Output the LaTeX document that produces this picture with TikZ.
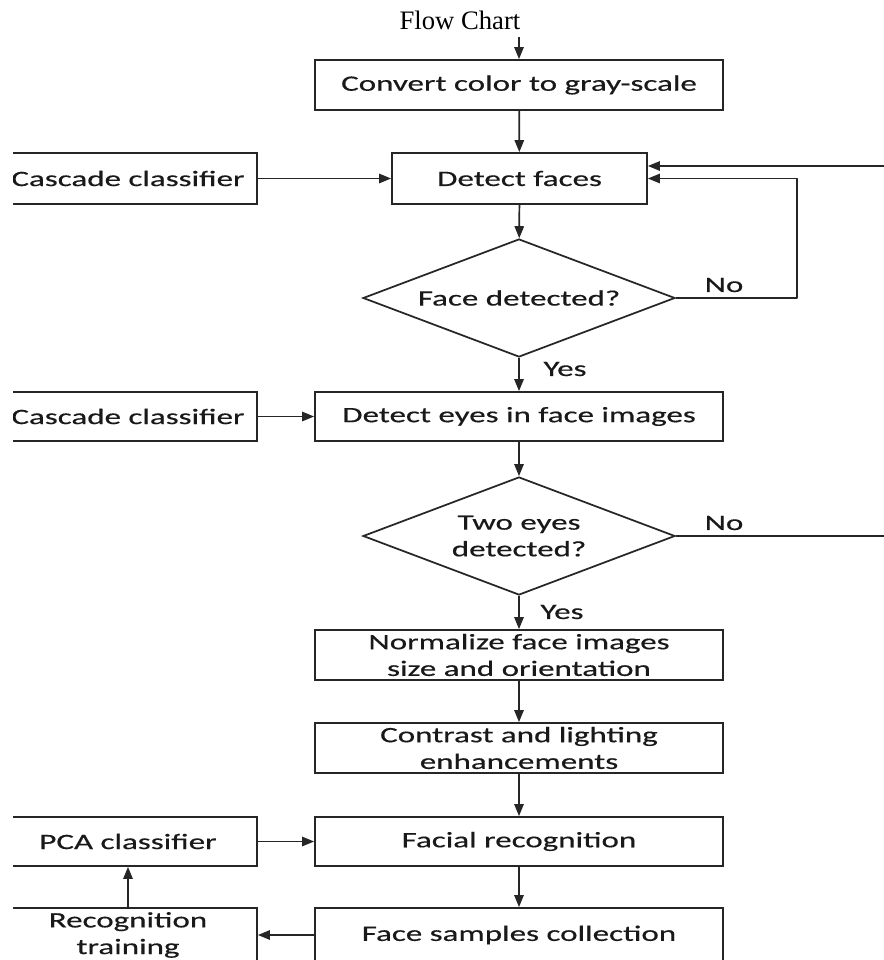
\documentclass[tikz,border=0pt]{standalone}
\usepackage{fontspec}
\setmainfont{Liberation Serif}
\newfontfamily\boxfont[FakeStretch=1.5,FakeBold=0.4]{Carlito}
\usetikzlibrary{shapes.geometric,arrows.meta}

\tikzset{
  stepbox/.style={draw=drawColor,line width=1.3pt,rectangle,inner sep=0pt,
    minimum width=306pt,minimum height=37.5pt,text=textColor,align=center,
    font=\boxfont\fontsize{16.5}{20}\selectfont},
  sidebox/.style={stepbox,minimum width=193.5pt},
  askbox/.style={stepbox,diamond,aspect=2.64,minimum width=234pt,minimum height=88.5pt,inner sep=0pt},
  flowtag/.style={text=textColor,inner sep=0pt,font=\boxfont\fontsize{16.5}{20}\selectfont},
  flowarrow/.style={draw=drawColor,line width=1.3pt,line join=round,
    -{Triangle[length=9pt,width=7pt]}},
  flowline/.style={draw=drawColor,line width=1.3pt,line join=round}
}

\begin{document}
\begin{tikzpicture}[x=0.75pt,y=-0.75pt]
\definecolor{fillColor}{RGB}{255,255,255}
\definecolor{drawColor}{RGB}{38,38,38}
\definecolor{textColor}{RGB}{25,25,25}
\path[use as bounding box,fill=fillColor] (0,0) rectangle (884,960);

\node[text=black,anchor=base,inner sep=0pt,font=\fontsize{20}{22}\selectfont] (title) at (460,29) {Flow Chart};

\begin{scope}
\path[clip] (13,0) rectangle (884,960);

% main column
\node[stepbox] (gray) at (519,85) {Convert color to gray-scale};

\node[stepbox,minimum width=191.25pt,minimum height=38.25pt] (faces) at (519.5,178.5) {Detect faces};

\node[askbox] (facehit) at (519,298) {Face detected?};

\node[stepbox,minimum height=36.75pt] (eyes) at (519,416.5) {Detect eyes in face images};

\node[askbox] (eyehit) at (519,536) {Two eyes\\detected?};

\node[stepbox] (norm) at (519,655) {Normalize face images\\size and orientation};

\node[stepbox] (light) at (519,748) {Contrast and lighting\\enhancements};

\node[stepbox,minimum height=36.75pt] (recog) at (519,841.5) {Facial recognition};

\node[stepbox,minimum height=40.5pt] (samples) at (519,935) {Face samples collection};

% side column
\node[sidebox,minimum height=38.25pt] (cascA) at (128,178.5) {Cascade classifier};

\node[sidebox,minimum height=36.75pt] (cascB) at (128,416.5) {Cascade classifier};

\node[sidebox,minimum height=36.75pt] (pca) at (128,841.5) {PCA classifier};

\node[sidebox,minimum height=40.5pt] (train) at (128,935) {Recognition\\training};

% connectors
\coordinate (start) at (519,37);
\coordinate (edgeA) at (884,166);
\coordinate (loopA) at (797,298);
\coordinate (edgeB) at (884,536);

\path[flowarrow] (start) -- (gray.north);

\path[flowarrow] (gray) -- (faces);

\path[flowarrow] (cascA) -- (faces);

\path[flowarrow] (edgeA) -- (edgeA -| faces.east);

\path[flowarrow] (facehit.east) -- (loopA) -- (loopA |- faces.east) -- (faces.east);

\path[flowarrow] (faces) -- (facehit);

\path[flowarrow] (facehit) -- (eyes);

\path[flowarrow] (cascB) -- (eyes);

\path[flowarrow] (eyes) -- (eyehit);

\path[flowline] (eyehit.east) -- (edgeB);

\path[flowarrow] (eyehit) -- (norm);

\path[flowarrow] (norm) -- (light);

\path[flowarrow] (light) -- (recog);

\path[flowarrow] (pca) -- (recog);

\path[flowarrow] (recog) -- (samples);

\path[flowarrow] (samples) -- (train);

\path[flowarrow] (train.north) -- (pca.south);

% branch labels
\node[flowtag] (noA) at (724,285) {No};

\node[flowtag] (yesA) at (565,369) {Yes};

\node[flowtag] (noB) at (724,523) {No};

\node[flowtag] (yesB) at (562,612) {Yes};
\end{scope}
\end{tikzpicture}
\end{document}
